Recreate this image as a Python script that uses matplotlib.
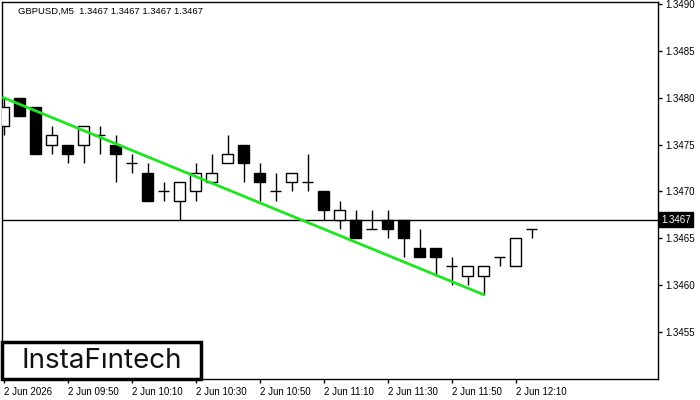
import matplotlib
matplotlib.use("Agg")
import matplotlib.pyplot as plt
from matplotlib.patches import Rectangle

plt.rcParams['font.family'] = ['Liberation Sans', 'DejaVu Sans']

# GBPUSD M5 bars, 09:30 .. 12:15
opens = [1.3477, 1.3480, 1.3479, 1.3475, 1.3475, 1.3475, 1.3476, 1.3475, 1.3473, 1.3472,
         1.3470, 1.3469, 1.3470, 1.3471, 1.3473, 1.3475, 1.3472, 1.3470, 1.3471, 1.3471,
         1.3470, 1.3467, 1.3467, 1.3466, 1.3467, 1.3467, 1.3464, 1.3464, 1.3462, 1.3461,
         1.3461, 1.3463, 1.3462, 1.3466]
highs = [1.3480, 1.3480, 1.3479, 1.3477, 1.3475, 1.3477, 1.3477, 1.3476, 1.3474, 1.3473,
         1.3471, 1.3471, 1.3473, 1.3474, 1.3476, 1.3475, 1.3473, 1.3472, 1.3472, 1.3474,
         1.3470, 1.3469, 1.3468, 1.3468, 1.3468, 1.3467, 1.3466, 1.3464, 1.3463, 1.3462,
         1.3462, 1.3463, 1.3465, 1.3466]
lows = [1.3476, 1.3478, 1.3474, 1.3474, 1.3473, 1.3473, 1.3474, 1.3471, 1.3472, 1.3469,
        1.3469, 1.3467, 1.3469, 1.3471, 1.3473, 1.3471, 1.3469, 1.3469, 1.3470, 1.3470,
        1.3467, 1.3466, 1.3465, 1.3466, 1.3465, 1.3463, 1.3463, 1.3461, 1.3460, 1.3460,
        1.3459, 1.3462, 1.3462, 1.3465]
closes = [1.3479, 1.3478, 1.3474, 1.3476, 1.3474, 1.3477, 1.3476, 1.3474, 1.3473, 1.3469,
          1.3470, 1.3471, 1.3472, 1.3472, 1.3474, 1.3473, 1.3471, 1.3470, 1.3472, 1.3471,
          1.3468, 1.3468, 1.3465, 1.3466, 1.3466, 1.3465, 1.3463, 1.3463, 1.3462, 1.3462,
          1.3462, 1.3463, 1.3465, 1.3466]

tick_bars = [0, 4, 8, 12, 16, 20, 24, 28, 32]
tick_labels = ["2 Jun 2026", "2 Jun 09:50", "2 Jun 10:10", "2 Jun 10:30", "2 Jun 10:50",
               "2 Jun 11:10", "2 Jun 11:30", "2 Jun 11:50", "2 Jun 12:10"]
price_ticks = [1.3455, 1.3460, 1.3465, 1.3470, 1.3475, 1.3480, 1.3485, 1.3490]

# support line of the falling wedge
trend_bars = [0, 30]
trend_prices = [1.3480, 1.3459]

last_price = 1.3467
title = "GBPUSD,M5  1.3467 1.3467 1.3467 1.3467"


def draw_candles(ax):
    n = len(opens)
    xs = list(range(n))
    ax.vlines(xs, lows, highs, color="black", linewidth=1, zorder=2)
    for x, o, c in zip(xs, opens, closes):
        face = "white" if c >= o else "black"
        ax.add_patch(Rectangle((x - 0.32, min(o, c)), 0.64, abs(c - o),
                               facecolor=face, edgecolor="black", linewidth=1, zorder=3))


def main():
    fig = plt.figure(figsize=(7, 4), dpi=100)
    ax = fig.add_axes([2 / 700, 21 / 400, 656 / 700, 377 / 400])

    draw_candles(ax)
    ax.plot(trend_bars, trend_prices, color="#1ee61e", linewidth=2, zorder=4)
    ax.axhline(last_price, color="black", linewidth=1, zorder=1)

    ax.set_xlim(-0.094, 40.906)
    ax.set_ylim(1.34500, 1.34902)

    ax.yaxis.tick_right()
    ax.set_yticks(price_ticks)
    ax.set_yticklabels([f"{p:.4f}" for p in price_ticks])
    ax.set_xticks(tick_bars)
    ax.set_xticklabels(tick_labels, ha="left")
    ax.tick_params(axis="both", labelsize=7, length=3, width=1, color="black", pad=2)
    ax.tick_params(axis="x", pad=3)
    for s in ax.spines.values():
        s.set_linewidth(1)
        s.set_color("black")

    ax.text(0.0244, 0.976, title, transform=ax.transAxes, fontsize=6.8, va="center", ha="left")

    # current price marker on the right scale
    ax.text(1.005, last_price, f"{last_price:.4f}", transform=ax.get_yaxis_transform(),
            fontsize=7, color="white", va="center", ha="left",
            bbox=dict(boxstyle="square,pad=0.25", facecolor="black", edgecolor="black"))

    # logo box
    ax.add_patch(Rectangle((0, 0), 199 / 656, 37 / 377, transform=ax.transAxes,
                           facecolor="white", edgecolor="black", linewidth=2.5, zorder=5,
                           clip_on=False))
    ax.text(100 / 656, 18 / 377, "InstaF\u0131ntech", transform=ax.transAxes, fontsize=20,
            family=["Inter", "DejaVu Sans"], color="#111111", ha="center", va="center", zorder=6)

    fig.savefig("out.png", dpi=100)


if __name__ == "__main__":
    main()
